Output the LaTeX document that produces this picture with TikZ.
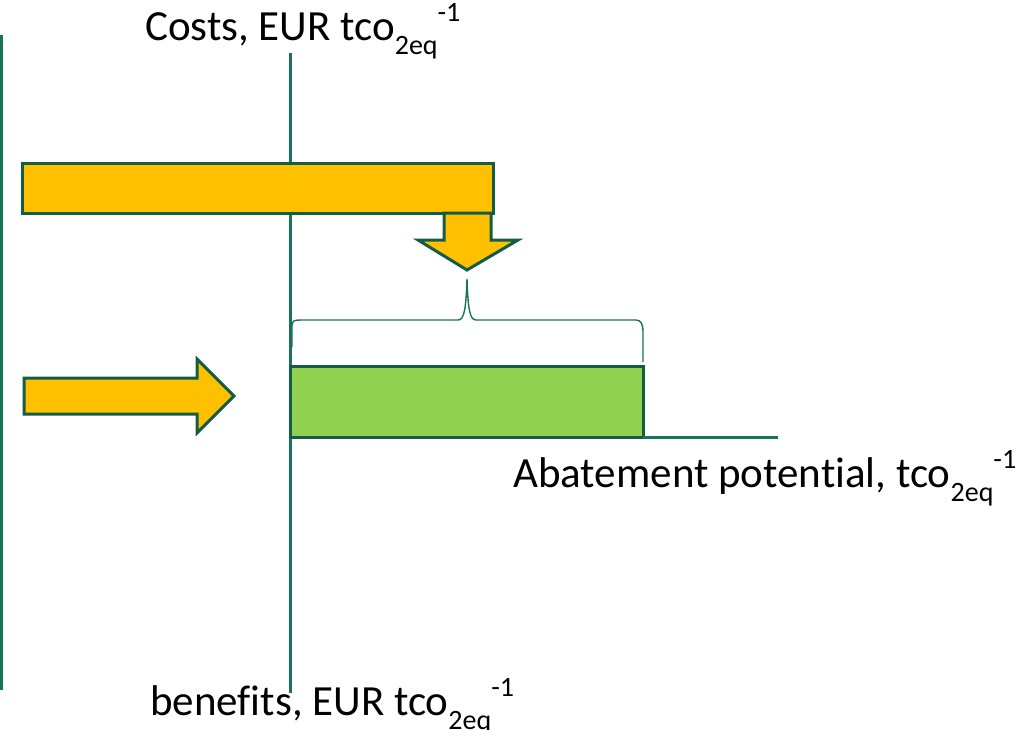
\documentclass[tikz,border=0pt]{standalone}
\usepackage{fontspec}
\setmainfont[Ligatures={NoCommon}]{Carlito}
\definecolor{axisgreen}{HTML}{17735A}
\definecolor{edgegreen}{HTML}{135C45}
\definecolor{barfill}{HTML}{FFC000}
\definecolor{potfill}{HTML}{92D050}
\newcommand{\tcounit}{tco\raisebox{-0.33em}{\fontsize{28}{28}\selectfont 2eq}\raisebox{0.42em}{\fontsize{28}{28}\selectfont -1}}
\begin{document}
\begin{tikzpicture}[x=1pt,y=-1pt,
  axisline/.style={draw=axisgreen,line width=3pt},
  yellowshape/.style={draw=edgegreen,fill=barfill,line width=3pt,line join=miter},
  greenshape/.style={draw=edgegreen,fill=potfill,line width=3pt},
  bracestyle/.style={draw=axisgreen,line width=1.4pt},
  label/.style={font=\fontsize{43}{48}\selectfont,inner sep=0pt,anchor=base west}]
\useasboundingbox (0,0) rectangle (1019,729);
% axes
\draw[axisline] (1,35) -- (1,690);
\coordinate (ytop) at (290,53);
\coordinate (ybot) at (290,693);
\coordinate (xend) at (778,437);
\draw[axisline] (ytop) -- (ybot);
% top bar
\draw[yellowshape] (22,163) rectangle (493,213);
% down arrow
\draw[yellowshape] (444,213) -- (491,213) -- (491,240) -- (518,240) -- (467,270) -- (418,240) -- (444,240) -- cycle;
% brace
\draw[bracestyle] (292,347) -- (292,326) .. controls (292,321) and (294,320) .. (300,320)
  -- (458,320) .. controls (464,320) and (466,310) .. (467,279)
  .. controls (468,310) and (470,320) .. (476,320)
  -- (636,320) .. controls (641,320) and (643,324) .. (643,332) -- (643,362);
% green rectangle
\draw[greenshape] (290,366) rectangle (643,437);
\draw[axisline] (643,437) -- (xend);
% right arrow
\draw[yellowshape] (24,378) -- (197,378) -- (197,359) -- (234,396) -- (197,433) -- (197,414) -- (24,414) -- cycle;
% labels
\node[label] (costs) at (145,40) {Costs, EUR \tcounit};
\node[label] (abate) at (513,487) {Abatement potential, \tcounit};
\node[label] (benef) at (150,715) {benefits, EUR \tcounit};
\end{tikzpicture}
\end{document}
